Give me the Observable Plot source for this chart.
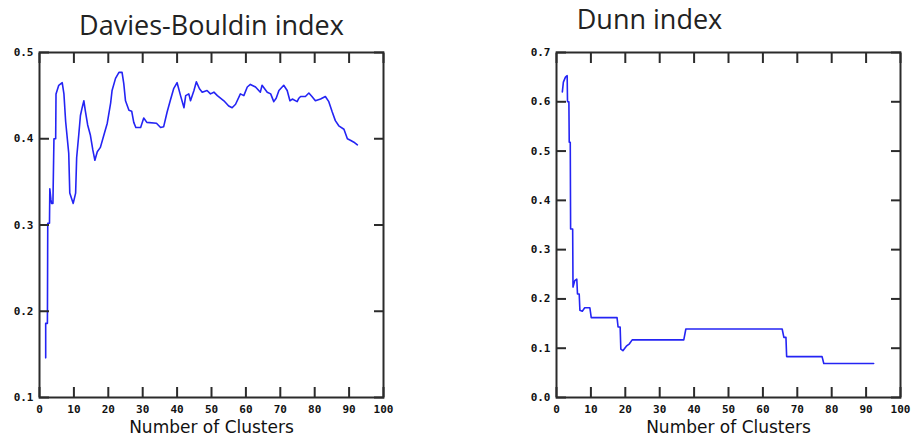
<!DOCTYPE html>
<html>
<head>
<meta charset="utf-8">
<script src="https://cdn.jsdelivr.net/npm/d3@7"></script>
<script src="https://cdn.jsdelivr.net/npm/@observablehq/plot@0.6"></script>
<style>
  html, body { margin: 0; padding: 0; background: #fff; }
  #wrap { position: relative; width: 912px; height: 442px; overflow: hidden; }
  #left, #right { position: absolute; top: 0; }
  #left { left: 0; }
  #right { left: 456px; }
</style>
</head>
<body>
<div id="wrap"><div id="left"></div><div id="right"></div></div>
<script>
// ---- Data ----
const titles = ["Davies-Bouldin index", "Dunn index"];
const xLabel = "Number of Clusters";
const xTicks = [0, 10, 20, 30, 40, 50, 60, 70, 80, 90, 100];
const dbTicks = [0.1, 0.2, 0.3, 0.4, 0.5];
const dunnTicks = [0.0, 0.1, 0.2, 0.3, 0.4, 0.5, 0.6, 0.7];

const dbX = [1.8, 1.8, 2.3, 2.4, 2.9, 3.0, 3.3, 3.5, 3.9, 4.2, 4.7, 4.8, 5.6, 6.6, 7.1, 7.6, 8.5, 8.8, 9.8, 10.5,
  10.8, 11.4, 11.9, 12.4, 12.9, 13.3, 14.0, 14.8, 15.5, 16.1, 16.8, 17.7, 18.7, 19.7, 20.7, 21.1, 22.1, 23.1, 24.0, 24.5,
  25.0, 26.0, 26.8, 27.4, 28.0, 29.4, 30.3, 31.2, 34.0, 35.2, 36.1, 37.1, 38.0, 39.0, 40.0, 41.0, 42.0, 42.5, 43.4, 43.9,
  44.9, 45.6, 46.5, 47.3, 48.7, 49.7, 50.7, 51.7, 53.6, 55.0, 56.0, 57.0, 58.4, 59.4, 60.4, 61.3, 62.8, 64.2, 64.7, 66.2,
  67.2, 68.1, 68.8, 69.6, 71.0, 72.0, 72.8, 73.5, 74.9, 75.4, 75.9, 77.3, 78.3, 79.2, 80.2, 81.7, 83.1, 84.1, 85.1, 86.0,
  87.0, 88.5, 89.5, 90.5, 91.4, 92.4];
const dbY = [0.146, 0.186, 0.186, 0.302, 0.302, 0.342, 0.330, 0.325, 0.325, 0.400, 0.400, 0.452, 0.462, 0.465, 0.452, 0.420, 0.383, 0.337, 0.325, 0.337,
  0.378, 0.404, 0.427, 0.436, 0.444, 0.433, 0.416, 0.404, 0.387, 0.375, 0.385, 0.390, 0.404, 0.418, 0.442, 0.456, 0.470, 0.477, 0.477, 0.464,
  0.444, 0.433, 0.432, 0.419, 0.413, 0.413, 0.424, 0.419, 0.418, 0.413, 0.414, 0.431, 0.444, 0.458, 0.465, 0.450, 0.436, 0.450, 0.452, 0.444,
  0.456, 0.466, 0.458, 0.454, 0.456, 0.452, 0.454, 0.450, 0.444, 0.438, 0.436, 0.440, 0.452, 0.450, 0.460, 0.463, 0.460, 0.454, 0.462, 0.454,
  0.452, 0.443, 0.447, 0.456, 0.462, 0.456, 0.444, 0.446, 0.443, 0.447, 0.449, 0.449, 0.453, 0.449, 0.444, 0.446, 0.449, 0.443, 0.431, 0.421,
  0.415, 0.411, 0.400, 0.398, 0.396, 0.393];

const dunnX = [1.7, 2.0, 2.6, 3.1, 3.2, 3.6, 3.7, 4.0, 4.1, 4.7, 4.8, 5.3, 5.9, 6.1, 6.6, 6.8, 7.5, 8.2, 9.7, 10.1,
  17.6, 17.9, 18.5, 18.7, 19.3, 20.3, 21.2, 22.0, 37.0, 37.6, 65.6, 66.1, 66.7, 66.9, 77.2, 77.7, 92.2];
const dunnY = [0.620, 0.640, 0.650, 0.653, 0.600, 0.600, 0.518, 0.518, 0.342, 0.342, 0.224, 0.237, 0.240, 0.210, 0.210, 0.177, 0.175, 0.182, 0.182, 0.162,
  0.162, 0.143, 0.143, 0.098, 0.095, 0.104, 0.109, 0.117, 0.117, 0.139, 0.139, 0.122, 0.122, 0.083, 0.083, 0.069, 0.069];

const lineColor = "#2424f4";
const axisColor = "#2b2b2b";
const tickFont = "'DejaVu Sans Mono', monospace";

function chart({xs, ys, yDomain, yTicks, title, titleDx, titleDy, marginLeft, marginRight}) {
  const data = xs.map((x, i) => ({x, y: ys[i]}));
  const fmt = d => d.toFixed(1);
  const empty = () => "";
  return Plot.plot({
    width: 456,
    height: 442,
    marginLeft, marginRight,
    marginTop: 52,
    marginBottom: 45,
    style: {background: "transparent", overflow: "visible"},
    x: {domain: [0, 100]},
    y: {domain: yDomain},
    marks: [
      Plot.line(data, {x: "x", y: "y", stroke: lineColor, strokeWidth: 1.6, curve: "linear"}),
      // inward tick marks on all four sides
      Plot.axisX({anchor: "bottom", ticks: xTicks, tickSize: -10, tickFormat: empty, stroke: axisColor, strokeWidth: 2, label: null}),
      Plot.axisX({anchor: "top", ticks: xTicks, tickSize: -10, tickFormat: empty, stroke: axisColor, strokeWidth: 2, label: null}),
      Plot.axisY({anchor: "left", ticks: yTicks, tickSize: -10, tickFormat: empty, stroke: axisColor, strokeWidth: 2, label: null}),
      Plot.axisY({anchor: "right", ticks: yTicks, tickSize: -10, tickFormat: empty, stroke: axisColor, strokeWidth: 2, label: null}),
      // tick labels
      Plot.axisX({anchor: "bottom", ticks: xTicks, tickSize: 0, tickPadding: 8, tickFormat: d => String(d),
        fontFamily: tickFont, fontWeight: "bold", fontSize: 11, fill: "#111", label: null}),
      Plot.axisY({anchor: "left", ticks: yTicks, tickSize: 0, tickPadding: 6, tickFormat: fmt,
        fontFamily: tickFont, fontWeight: "bold", fontSize: 11, fill: "#111", label: null}),
      Plot.frame({stroke: axisColor, strokeWidth: 2}),
      // axis label
      Plot.text([xLabel], {frameAnchor: "bottom", dy: 35, fontSize: 17, fontFamily: "'DejaVu Sans', sans-serif", fill: "#111"}),
      // title
      Plot.text([title], {frameAnchor: "top", dx: titleDx, dy: titleDy, fontSize: 27, fontFamily: "'Open Sans', sans-serif", fill: "#222"})
    ]
  });
}

document.getElementById("left").append(chart({
  xs: dbX, ys: dbY, yDomain: [0.1, 0.5], yTicks: dbTicks,
  title: titles[0], titleDx: 0, titleDy: -37, marginLeft: 39, marginRight: 73
}));
document.getElementById("right").append(chart({
  xs: dunnX, ys: dunnY, yDomain: [0, 0.7], yTicks: dunnTicks,
  title: titles[1], titleDx: -79, titleDy: -43, marginLeft: 100, marginRight: 12
}));
</script>
</body>
</html>
